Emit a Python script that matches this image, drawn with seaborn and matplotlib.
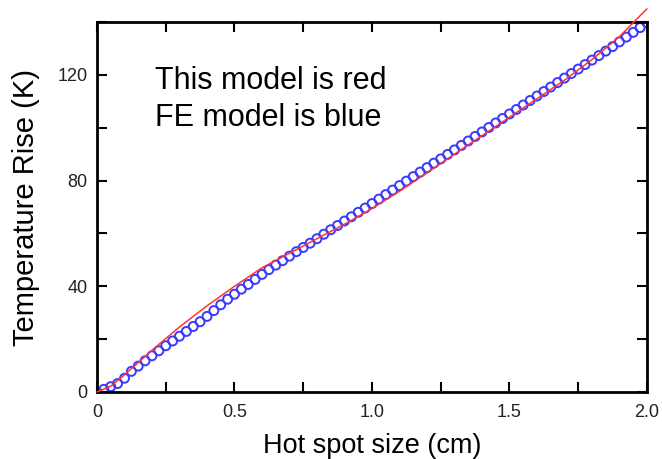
import numpy as np
import pandas as pd
import seaborn as sns
import matplotlib.pyplot as plt
from matplotlib.ticker import MultipleLocator

# FE model (blue circles) at 0.025 cm steps
fe_x = [i * 0.025 for i in range(81)]
fe_y = [0.0, 1.0, 2.0, 3.2, 5.2, 7.8, 9.8, 11.8, 13.7, 15.6,
        17.5, 19.3, 21.1, 22.9, 24.8, 26.6, 28.6, 30.8, 33.0, 35.1,
        37.0, 38.9, 40.7, 42.6, 44.5, 46.3, 48.0, 49.7, 51.4, 53.1,
        54.7, 56.3, 58.0, 59.7, 61.4, 63.0, 64.7, 66.3, 68.0, 69.6,
        71.3, 73.0, 74.7, 76.4, 78.1, 79.8, 81.5, 83.2, 84.9, 86.6,
        88.2, 89.9, 91.6, 93.3, 95.0, 96.7, 98.4, 100.1, 101.8, 103.5,
        105.2, 106.9, 108.6, 110.3, 112.0, 113.7, 115.4, 117.1, 118.8, 120.5,
        122.2, 123.9, 125.6, 127.3, 129.0, 130.7, 132.5, 134.3, 136.1, 137.9,
        139.7]

# this model (red line)
model_x = [0.0, 0.05, 0.1, 0.2, 0.3, 0.4, 0.5, 0.6, 0.7, 0.8, 0.9,
           1.0, 1.1, 1.2, 1.3, 1.4, 1.5, 1.6, 1.7, 1.8, 1.9, 2.0]
model_y = [0.0, 2.2, 6.5, 15.8, 24.6, 32.6, 40.0, 47.0, 52.5, 58.0, 63.5,
           69.4, 76.0, 82.9, 90.0, 97.0, 104.0, 111.0, 118.0, 125.8, 134.5, 145.0]

fe = pd.DataFrame({"x": fe_x, "y": fe_y})
model = pd.DataFrame({"x": model_x, "y": model_y})

sns.set_style("ticks")
plt.rcParams['font.family'] = ['Liberation Sans', 'DejaVu Sans']
plt.rcParams['text.color'] = 'black'
plt.rcParams['axes.labelcolor'] = 'black'

fig = plt.figure(figsize=(6.62, 4.59), dpi=100)
ax = fig.add_axes([0.1465, 0.146, 0.8308, 0.806])

sns.scatterplot(data=fe, x="x", y="y", ax=ax, marker="o", s=42,
                facecolors="none", edgecolor="#3a3aff", linewidth=1.4, zorder=2)
sns.lineplot(data=model, x="x", y="y", ax=ax, color="#ff3535", linewidth=1.1,
             zorder=3, clip_on=False)

ax.set_xlim(0, 2.0)
ax.set_ylim(0, 140)
ax.set_xticks([0, 0.5, 1.0, 1.5, 2.0])
ax.set_xticklabels(["0", "0.5", "1.0", "1.5", "2.0"])
ax.xaxis.set_minor_locator(MultipleLocator(0.25))
ax.yaxis.set_major_locator(MultipleLocator(40))
ax.yaxis.set_minor_locator(MultipleLocator(20))

for s in ax.spines.values():
    s.set_visible(True)
    s.set_linewidth(2)
    s.set_color("black")

ax.tick_params(which="both", direction="in", top=True, right=True,
               length=7, width=1.5, color="black")
ax.tick_params(axis="both", which="major", labelsize=13, labelcolor="#222222")
ax.tick_params(axis="y", which="major", pad=7)
ax.tick_params(axis="x", which="major", pad=9)

ax.set_xlabel("Hot spot size (cm)", fontsize=19.5, labelpad=8)
ax.set_ylabel("Temperature Rise (K)", fontsize=21, labelpad=12)

ax.text(0.1055, 0.819, "This model is red", transform=ax.transAxes,
        fontsize=22, va="baseline", ha="left", color="black")
ax.text(0.1055, 0.719, "FE model is blue", transform=ax.transAxes,
        fontsize=22, va="baseline", ha="left", color="black")

fig.savefig("out.png", dpi=100)
